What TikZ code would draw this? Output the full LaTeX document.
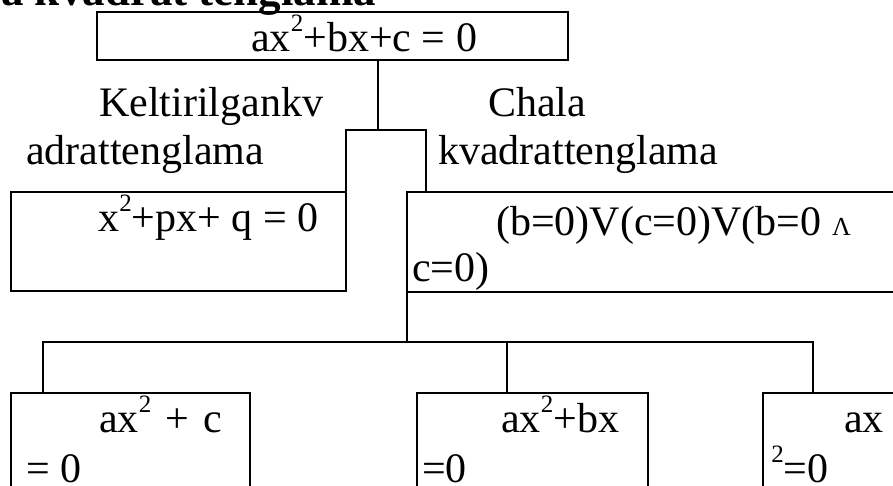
\documentclass[tikz,border=0pt]{standalone}
\usepackage{fontspec}
\setmainfont{Liberation Serif}
\tikzset{box/.style={draw,rectangle,inner sep=0pt,outer sep=0pt,line width=2.5pt}}
\tikzset{txt/.style={inner sep=0pt,anchor=base west,font=\fontsize{42}{48}\selectfont}}
\newcommand{\sqr}{\raisebox{20pt}{\fontsize{25}{28}\selectfont 2}}

\begin{document}
\begin{tikzpicture}[x=1pt,y=-1pt,line width=2.5pt]
\useasboundingbox (0,0) rectangle (893,486);
\clip (0,0) rectangle (893,486);
% title, cut at the top
\node[txt,font=\bfseries\fontsize{45}{52}\selectfont] (title) at (0,6) {a kvadrat tenglama};
% boxes
\node[box,minimum width=471pt,minimum height=48pt] (top) at (332.5,36) {};
\node[box,minimum width=335pt,minimum height=99pt] (lbox) at (178.5,241.5) {};
\node[box,minimum width=503pt,minimum height=100pt] (rbox) at (658.5,242) {};
\node[box,minimum width=239pt,minimum height=107pt] (c1) at (130.5,446.5) {};
\node[box,minimum width=231pt,minimum height=107pt] (c2) at (532.5,446.5) {};
\node[box,minimum width=147pt,minimum height=107pt] (c3) at (836.5,446.5) {};
% texts
\node[txt] (ttop) at (250,52) {ax\sqr+bx+c = 0};
\node[txt] (kel1) at (98,117) {Keltirilgankv};
\node[txt] (kel2) at (25,165) {adrattenglama};
\node[txt] (cha1) at (487,117) {Chala};
\node[txt] (cha2) at (437,165) {kvadrattenglama};
\node[txt] (tl) at (97,232) {x\sqr+px+ q = 0};
\node[txt] (tr1) at (495,236) {(b=0)V(c=0)V(b=0 {\fontsize{26}{30}\selectfont Λ}};
\node[txt] (tr2) at (411,281) {c=0)};
\node[txt] (t11) at (98,432) {ax\sqr\hspace{14pt}+\hspace{14pt}c};
\node[txt] (t12) at (25,482) {= 0};
\node[txt] (t21) at (500,432) {ax\sqr+bx};
\node[txt] (t22) at (421,482) {=0};
\node[txt] (t31) at (843,432) {ax};
\node[txt] (t32) at (770,482) {\sqr=0};
% connectors
\coordinate (j1) at (378,130);
\coordinate (j2) at (426,130);
\coordinate (s1) at (407,342);
\coordinate (b1) at (43,342);
\coordinate (b2) at (507,342);
\coordinate (b3) at (813,342);
\draw (top.south -| j1) -- (j1);
\draw (lbox.north east) -- (lbox.north east |- j1) -- (j2) -- (rbox.north -| j2);
\draw (rbox.south west) -- (rbox.south west |- s1);
\draw (c1.north -| b1) -- (b1) -- (b3) -- (c3.north -| b3);
\draw (b2) -- (c2.north -| b2);
\end{tikzpicture}
\end{document}
